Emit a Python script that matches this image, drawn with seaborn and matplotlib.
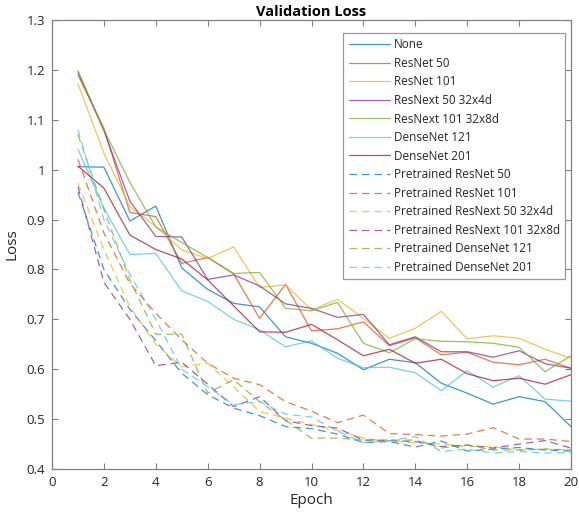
import matplotlib
matplotlib.use("Agg")
import matplotlib.pyplot as plt
import seaborn as sns
import numpy as np

epochs = list(range(1, 21))

none = [1.006, 1.005, 0.897, 0.927, 0.803, 0.760, 0.732, 0.725, 0.665, 0.652,
        0.632, 0.599, 0.620, 0.613, 0.572, 0.552, 0.530, 0.545, 0.535, 0.485]
resnet50 = [1.190, 1.083, 0.914, 0.906, 0.812, 0.824, 0.791, 0.702, 0.770, 0.677,
            0.681, 0.695, 0.647, 0.663, 0.629, 0.634, 0.614, 0.609, 0.620, 0.602]
resnet101 = [1.172, 1.033, 0.926, 0.886, 0.839, 0.822, 0.845, 0.764, 0.769, 0.719,
             0.740, 0.702, 0.662, 0.682, 0.716, 0.661, 0.667, 0.662, 0.640, 0.622]
resnext50 = [1.196, 1.078, 0.937, 0.866, 0.865, 0.780, 0.789, 0.767, 0.731, 0.722,
             0.704, 0.710, 0.649, 0.665, 0.635, 0.635, 0.624, 0.637, 0.611, 0.602]
resnext101 = [1.198, 1.080, 0.975, 0.885, 0.854, 0.824, 0.792, 0.794, 0.722, 0.717,
              0.734, 0.652, 0.633, 0.661, 0.656, 0.655, 0.652, 0.644, 0.595, 0.627]
densenet121 = [1.041, 0.923, 0.830, 0.832, 0.757, 0.736, 0.700, 0.679, 0.645, 0.657,
               0.622, 0.603, 0.604, 0.593, 0.557, 0.597, 0.564, 0.587, 0.540, 0.536]
densenet201 = [1.007, 0.963, 0.869, 0.840, 0.821, 0.779, 0.727, 0.675, 0.674, 0.690,
               0.659, 0.627, 0.640, 0.612, 0.620, 0.591, 0.577, 0.582, 0.570, 0.589]

pt_resnet50 = [0.955, 0.800, 0.720, 0.657, 0.592, 0.549, 0.522, 0.507, 0.485, 0.481,
               0.470, 0.453, 0.455, 0.444, 0.456, 0.436, 0.440, 0.443, 0.438, 0.436]
pt_resnet101 = [1.021, 0.873, 0.772, 0.712, 0.659, 0.612, 0.582, 0.569, 0.535, 0.516,
                0.493, 0.508, 0.471, 0.469, 0.466, 0.470, 0.483, 0.460, 0.460, 0.455]
pt_resnext50 = [0.973, 0.840, 0.725, 0.650, 0.605, 0.612, 0.565, 0.515, 0.502, 0.489,
                0.477, 0.462, 0.455, 0.453, 0.450, 0.445, 0.445, 0.438, 0.440, 0.438]
pt_resnext101 = [0.966, 0.774, 0.700, 0.607, 0.614, 0.570, 0.525, 0.545, 0.497, 0.487,
                 0.482, 0.458, 0.457, 0.455, 0.445, 0.448, 0.442, 0.450, 0.457, 0.442]
pt_densenet121 = [1.070, 0.920, 0.779, 0.670, 0.670, 0.552, 0.579, 0.535, 0.498, 0.462,
                  0.462, 0.458, 0.458, 0.458, 0.442, 0.448, 0.438, 0.438, 0.440, 0.438]
pt_densenet201 = [1.080, 0.900, 0.790, 0.700, 0.600, 0.565, 0.529, 0.535, 0.510, 0.504,
                  0.476, 0.453, 0.457, 0.465, 0.435, 0.440, 0.432, 0.435, 0.432, 0.433]

labels = ["None", "ResNet 50", "ResNet 101", "ResNext 50 32x4d", "ResNext 101 32x8d",
          "DenseNet 121", "DenseNet 201", "Pretrained ResNet 50", "Pretrained ResNet 101",
          "Pretrained ResNext 50 32x4d", "Pretrained ResNext 101 32x8d",
          "Pretrained DenseNet 121", "Pretrained DenseNet 201"]
series = [none, resnet50, resnet101, resnext50, resnext101, densenet121, densenet201,
          pt_resnet50, pt_resnet101, pt_resnext50, pt_resnext101, pt_densenet121, pt_densenet201]

palette = ["#0072BD", "#D95319", "#EDB120", "#7E2F8E", "#77AC30", "#4DBEEE", "#A2142F"]

sns.set_theme(style="white")
plt.rcParams['font.family'] = ['Open Sans', 'DejaVu Sans']

fig = plt.figure(figsize=(5.79, 5.14), dpi=100)
ax = fig.add_axes([52/579, 1-469/514, (571-52)/579, (469-20)/514])

for i, (lab, vals) in enumerate(zip(labels, series)):
    color = palette[i % 7]
    ls = "-" if i < 7 else (0, (6, 4))
    sns.lineplot(x=epochs, y=vals, ax=ax, color=color, linestyle=ls,
                 linewidth=0.9, alpha=0.75, label=lab)

ax.set_xlim(0, 20)
ax.set_ylim(0.4, 1.3)
ax.set_xticks(range(0, 21, 2))
yt = [0.4, 0.5, 0.6, 0.7, 0.8, 0.9, 1.0, 1.1, 1.2, 1.3]
ax.set_yticks(yt)
ax.set_yticklabels(["0.4", "0.5", "0.6", "0.7", "0.8", "0.9", "1", "1.1", "1.2", "1.3"])
ax.tick_params(direction="in", length=4, width=0.8, colors="#808080",
               labelcolor="#262626", labelsize=9.5, top=True, right=True,
               bottom=True, left=True, pad=5)
for s in ax.spines.values():
    s.set_visible(True)
    s.set_color("#808080")
    s.set_linewidth(0.9)

ax.set_xlabel("Epoch", fontsize=11, color="#262626", labelpad=3)
ax.set_ylabel("Loss", fontsize=11, color="#262626", labelpad=5)
ax.set_title("Validation Loss", fontsize=10.5, fontweight="bold", color="#000000", pad=3)

leg = ax.legend(loc="upper right", bbox_to_anchor=(565/579, 1-33/514),
                bbox_transform=fig.transFigure, borderaxespad=0, fontsize=8.5,
                handlelength=3.5, labelspacing=0.47, frameon=True, fancybox=False,
                borderpad=0.45, handletextpad=0.3)
leg.get_frame().set_edgecolor("#808080")
leg.get_frame().set_linewidth(0.9)
for t in leg.get_texts():
    t.set_color("#262626")

fig.savefig("out.png", dpi=100)
